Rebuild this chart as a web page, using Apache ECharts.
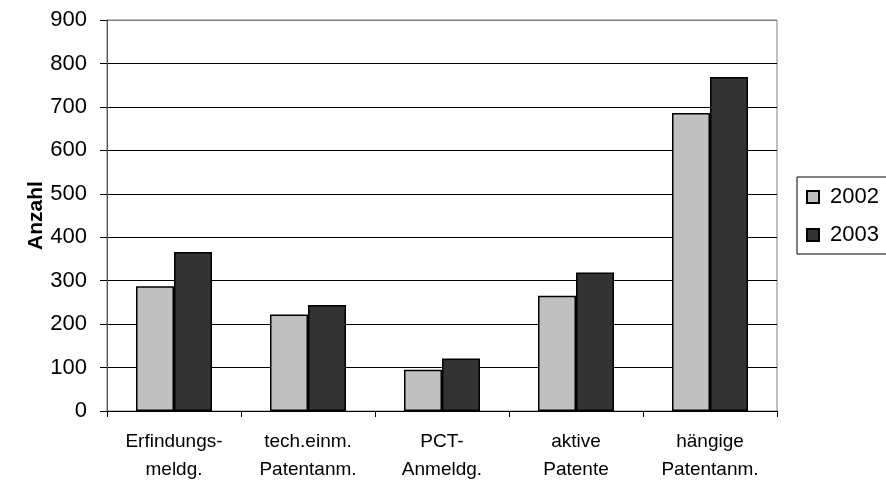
<!DOCTYPE html>
<html>
<head>
<meta charset="utf-8">
<script src="https://cdn.jsdelivr.net/npm/echarts@6/dist/echarts.min.js"></script>
<style>
  html, body { margin: 0; padding: 0; background: #fff; }
  #chart { width: 886px; height: 481px; }
</style>
</head>
<body>
<div id="chart"></div>
<script>
// Kategorien (zweizeilig) und Jahreswerte
const categories = ['Erfindungs-\nmeldg.', 'tech.einm.\nPatentanm.', 'PCT-\nAnmeldg.', 'aktive\nPatente', 'hängige\nPatentanm.'];
const years = ['2002', '2003'];
const values2002 = [287, 222, 95, 265, 686];
const values2003 = [366, 244, 121, 319, 769];
const yTicks = [0, 100, 200, 300, 400, 500, 600, 700, 800, 900];

const FONT = '"Liberation Sans", Arial, sans-serif';

const chart = echarts.init(document.getElementById('chart'));

// Gitterlinien: alle schwarz, die oberste (Rahmen) grau
const gridColors = yTicks.map((v, i) => i === yTicks.length - 1 ? '#808080' : '#000');

chart.setOption({
  animation: false,
  textStyle: { fontFamily: FONT },
  grid: {
    left: 107, right: 109, top: 20, bottom: 70,
    containLabel: false,
    outerBoundsMode: 'none',
    show: true, borderColor: '#808080', borderWidth: 1
  },
  legend: {
    orient: 'vertical',
    left: 797, top: 177,
    data: years,
    icon: 'rect',
    itemWidth: 12, itemHeight: 12,
    itemGap: 14,
    padding: [8, 20, 7, 9],
    borderColor: '#000', borderWidth: 1,
    textStyle: { fontFamily: FONT, fontSize: 22, color: '#000', lineHeight: 24, padding: [0, 0, 0, 6] }
  },
  xAxis: {
    type: 'category',
    data: categories,
    boundaryGap: true,
    axisLine: { lineStyle: { color: '#000', width: 1 } },
    axisTick: { show: true, length: 6, lineStyle: { color: '#000' } },
    axisLabel: { fontFamily: FONT, fontSize: 19, color: '#000', lineHeight: 28, margin: 17, interval: 0 },
    splitLine: { show: false }
  },
  yAxis: {
    type: 'value',
    min: 0, max: 900, interval: 100,
    name: 'Anzahl',
    nameLocation: 'middle',
    nameRotate: 90,
    nameGap: 60,
    nameMoveOverlap: false,
    nameTextStyle: { fontFamily: FONT, fontSize: 21, fontWeight: 'bold', color: '#000' },
    axisLine: { show: true, lineStyle: { color: '#555', width: 1 } },
    axisTick: { show: true, inside: false, length: 7, lineStyle: { color: '#000' } },
    axisLabel: { fontFamily: FONT, fontSize: 22, color: '#000', margin: 20 },
    splitLine: { show: true, lineStyle: { color: gridColors, width: 1 } }
  },
  series: [
    {
      name: years[0], type: 'bar', data: values2002,
      barWidth: 38, barGap: '0%',
      itemStyle: { color: '#c0c0c0', borderColor: '#000', borderWidth: 1.5 }
    },
    {
      name: years[1], type: 'bar', data: values2003,
      barWidth: 38, barGap: '0%',
      itemStyle: { color: '#333333', borderColor: '#000', borderWidth: 1.5 }
    }
  ]
});
</script>
</body>
</html>
